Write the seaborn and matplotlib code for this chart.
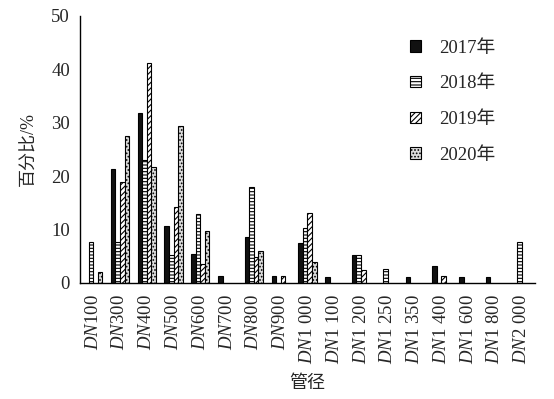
import matplotlib
matplotlib.use('Agg')
import seaborn as sns

import matplotlib.pyplot as plt

import pandas as pd
import numpy as np

sizes = ["100", "300", "400", "500", "600", "700", "800", "900", "1 000",
         "1 100", "1 200", "1 250", "1 350", "1 400", "1 600", "1 800", "2 000"]
years = ["2017年", "2018年", "2019年", "2020年"]

v2017 = [0, 21.3, 31.9, 10.7, 5.4, 1.2, 8.6, 1.2, 7.5, 1.1, 5.3, 0, 1.1, 3.2, 1.1, 1.1, 0]
v2018 = [7.7, 7.75, 23.1, 5.2, 12.9, 0, 17.9, 0, 10.2, 0, 5.2, 2.6, 0, 0, 0, 0, 7.7]
v2019 = [0, 18.9, 41.2, 14.2, 3.6, 0, 4.8, 1.25, 13.0, 0, 2.4, 0, 0, 1.25, 0, 0, 0]
v2020 = [2.0, 27.5, 21.7, 29.4, 9.8, 0, 5.9, 0, 3.9, 0, 0, 0, 0, 0, 0, 0, 0]

tick_labels = [r"$\mathit{DN}$" + s for s in sizes]

sns.set_style("white")
plt.rcParams['font.family'] = ['Liberation Serif', 'Noto Sans CJK SC']
plt.rcParams['mathtext.fontset'] = 'custom'
plt.rcParams['mathtext.it'] = 'Liberation Serif:italic'
plt.rcParams['mathtext.rm'] = 'Liberation Serif'
plt.rcParams['hatch.linewidth'] = 0.8

rows = []
for y, vals in zip(years, [v2017, v2018, v2019, v2020]):
    for s, v in zip(sizes, vals):
        rows.append({"size": s, "year": y, "pct": v})
df = pd.DataFrame(rows)

fig = plt.figure(figsize=(5.54, 3.99), dpi=100)
ax = fig.add_axes([0.144, 0.291, 0.822, 0.669])

faces = ["#111111", "white", "white", "#dddddd"]
hatches = [None, "-----", "//////", "....."]
palette = dict(zip(years, faces))
sns.barplot(data=df, x="size", y="pct", hue="year", palette=palette, width=0.68,
            edgecolor="black", linewidth=0.8, saturation=1, ax=ax)

for cont, h, fc in zip(ax.containers, hatches, faces):
    for bar in cont:
        bar.set_facecolor(fc)
        if h:
            bar.set_hatch(h)
        if bar.get_height() == 0:
            bar.set_visible(False)

ax.set_xlim(-0.5, 16.5)
ax.set_ylim(0, 50)
ax.set_yticks(np.arange(0, 51, 10))
ax.set_xticks(range(len(sizes)))
ax.set_xticklabels(tick_labels, rotation=90, fontsize=13.5)
ax.tick_params(axis='y', direction='in', length=4, labelsize=13.5, width=1, pad=7)
ax.tick_params(axis='x', length=0, pad=8)
for side in ["top", "right"]:
    ax.spines[side].set_visible(False)
for side in ["left", "bottom"]:
    ax.spines[side].set_color("black")
    ax.spines[side].set_linewidth(1)

ax.set_ylabel("百分比/%", fontsize=13, labelpad=10)
ax.set_xlabel("管径", fontsize=13, labelpad=8)

handles, labels = ax.get_legend_handles_labels()
for hnd, h, fc in zip(handles, hatches, faces):
    hnd.set_facecolor(fc)
    if h:
        hnd.set_hatch(h)
ax.legend(handles, labels, loc="upper right", bbox_to_anchor=(0.95, 0.975), frameon=False,
          fontsize=13.5, handlelength=0.55, handleheight=0.55, labelspacing=1.0,
          handletextpad=1.0)

plt.savefig("out.png", dpi=100)
